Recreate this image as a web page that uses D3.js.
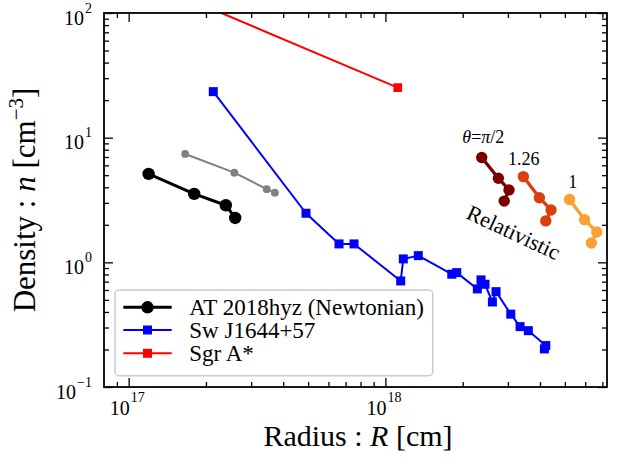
<!DOCTYPE html>
<html><head><meta charset="utf-8">
<script src="https://cdn.jsdelivr.net/npm/d3@7"></script>
<style>body{margin:0;background:#fff}svg{display:block}text{font-family:"Liberation Serif","Times New Roman",serif;fill:#000}</style>
</head><body><svg id="c" width="617" height="466"></svg>
<script>
// ---- data ----
const atR = [1.196e17, 1.80e17, 2.39e17, 2.60e17];
const atN = [5.12, 3.54, 2.87, 2.27];
const grayR = [1.66e17, 2.58e17, 3.45e17, 3.71e17];
const grayN = [7.40, 5.24, 3.86, 3.62];
const swR = [2.136e17, 4.906e17, 6.597e17, 7.548e17, 1.147e18, 1.174e18, 1.343e18, 1.813e18, 1.896e18,
             2.281e18, 2.357e18, 2.443e18, 2.61e18, 2.697e18, 3.078e18, 3.345e18, 3.603e18, 4.213e18, 4.16e18];
const swN = [23.4, 2.476, 1.405, 1.405, 0.709, 1.065, 1.132, 0.803, 0.827,
             0.612, 0.723, 0.667, 0.481, 0.582, 0.384, 0.305, 0.283, 0.215, 0.202];
const sgrR = [1.7e17, 1.117e18];
const sgrN = [130, 25.2];
const relDarkR = [2.372e18, 2.753e18, 3.03e18, 2.902e18];
const relDarkN = [6.94, 4.73, 3.81, 3.10];
const relMidR = [3.445e18, 3.977e18, 4.417e18, 4.213e18];
const relMidN = [4.87, 3.30, 2.63, 2.15];
const relLightR = [5.213e18, 5.965e18, 6.655e18, 6.341e18];
const relLightN = [3.19, 2.20, 1.75, 1.43];
const legendLabels = ["AT 2018hyz (Newtonian)", "Sw J1644+57", "Sgr A*"];
const xMajor = [1e17, 1e18];
const yMajor = [0.1, 1, 10, 100];
const xExp = ["17", "18"];
const yExp = ["\u22121", "0", "1", "2"];
const relLabels = ["1.26", "1"];

// ---- layout ----
const L = 104, R = 607, T = 13, B = 387;
const x = d3.scaleLog().domain([Math.pow(10, 16.904), Math.pow(10, 18.863)]).range([L, R]);
const y = d3.scaleLog().domain([0.1, 100]).range([B, T]);
const svg = d3.select("#c");

svg.append("defs").append("clipPath").attr("id", "clip")
  .append("rect").attr("x", L).attr("y", T).attr("width", R - L).attr("height", B - T);

const plot = svg.append("g").attr("clip-path", "url(#clip)");
const zip = (a, b) => a.map((v, i) => [v, b[i]]);
const line = d3.line().x(d => x(d[0])).y(d => y(d[1]));

function series(R_, N_, color, lw, marker, size) {
  const pts = zip(R_, N_);
  plot.append("path").datum(pts).attr("d", line).attr("fill", "none")
    .attr("stroke", color).attr("stroke-width", lw).attr("stroke-linejoin", "round");
  if (marker === "circle") {
    plot.selectAll(null).data(pts).enter().append("circle")
      .attr("cx", d => x(d[0])).attr("cy", d => y(d[1])).attr("r", size).attr("fill", color);
  } else {
    plot.selectAll(null).data(pts).enter().append("rect")
      .attr("x", d => x(d[0]) - size / 2).attr("y", d => y(d[1]) - size / 2)
      .attr("width", size).attr("height", size).attr("fill", color);
  }
}
series(sgrR, sgrN, "#ff0000", 2, "square", 8.7);
series(grayR, grayN, "#808080", 2, "circle", 3.9);
series(atR, atN, "#000000", 3, "circle", 6.2);
series(swR, swN, "#0000ff", 2, "square", 9);
series(relDarkR, relDarkN, "#7a0000", 3.3, "circle", 5.7);
series(relMidR, relMidN, "#d9400d", 3.3, "circle", 5.7);
series(relLightR, relLightN, "#fba035", 3.3, "circle", 5.7);

// annotations
const th = svg.append("text").attr("x", x(1.993e18)).attr("y", y(9.12)).attr("font-size", 18);
th.append("tspan").attr("font-style", "italic").text("θ");
th.append("tspan").text("=");
th.append("tspan").attr("font-style", "italic").text("π");
th.append("tspan").text("/2");
svg.append("text").attr("x", x(3.003e18)).attr("y", y(6.04)).attr("font-size", 18).text(relLabels[0]);
svg.append("text").attr("x", x(5.157e18)).attr("y", y(3.93)).attr("font-size", 18).text(relLabels[1]);
svg.append("text").attr("transform", `translate(${x(2.04e18)},${y(2.27)}) rotate(25)`)
  .attr("font-size", 22).text("Relativistic");

// ---- axes ----
const minorX = [];
for (let e = 16; e <= 18; e++) for (let m = 2; m <= 9; m++) minorX.push(m * Math.pow(10, e));
const minorXv = minorX.filter(v => x(v) >= L && x(v) <= R);
const minorY = [];
for (let e = -1; e <= 1; e++) for (let m = 2; m <= 9; m++) minorY.push(m * Math.pow(10, e));

function ax(gen, tx, ty, vals, size) {
  const g = svg.append("g").attr("transform", `translate(${tx},${ty})`)
    .call(gen.tickValues(vals).tickSize(size).tickFormat(""));
  g.select(".domain").remove();
  g.selectAll(".tick line").attr("stroke", "#000").attr("stroke-width", 1.3);
}
ax(d3.axisBottom(x), 0, B, xMajor, -9);
ax(d3.axisBottom(x), 0, B, minorXv, -5);
ax(d3.axisTop(x), 0, T, xMajor, -9);
ax(d3.axisTop(x), 0, T, minorXv, -5);
ax(d3.axisLeft(y), L, 0, yMajor, -9);
ax(d3.axisLeft(y), L, 0, minorY, -5);
ax(d3.axisRight(y), R, 0, yMajor, -9);
ax(d3.axisRight(y), R, 0, minorY, -5);

svg.append("rect").attr("x", L).attr("y", T).attr("width", R - L).attr("height", B - T)
  .attr("fill", "none").attr("stroke", "#000").attr("stroke-width", 1.8);

// tick labels (base and exponent as separate texts)
xMajor.forEach((v, i) => {
  svg.append("text").attr("x", x(v) + 1).attr("y", 414.5).attr("text-anchor", "end").attr("font-size", 20).text("10");
  svg.append("text").attr("x", x(v) + 2).attr("y", 402).attr("text-anchor", "start").attr("font-size", 14).text(xExp[i]);
});
yMajor.forEach((v, i) => {
  const ex = svg.append("text").attr("x", 92).attr("y", y(v) - 0.5).attr("text-anchor", "end").attr("font-size", 14).text(yExp[i]);
  const w = ex.node().getComputedTextLength();
  svg.append("text").attr("x", 92 - w - 1).attr("y", y(v) + 11.5).attr("text-anchor", "end").attr("font-size", 20).text("10");
});

// axis labels
const xl = svg.append("text").attr("x", 358).attr("y", 445.5).attr("text-anchor", "middle").attr("font-size", 30);
xl.append("tspan").text("Radius : ");
xl.append("tspan").attr("font-style", "italic").text("R");
xl.append("tspan").text(" [cm]");
const yl = svg.append("text").attr("transform", `translate(34.5,${(T + B) / 2}) rotate(-90)`)
  .attr("text-anchor", "middle").attr("font-size", 31);
yl.append("tspan").text("Density : ");
yl.append("tspan").attr("font-style", "italic").text("n");
yl.append("tspan").text(" [cm");
yl.append("tspan").attr("font-size", 21).attr("dy", -12).text("\u22123");
yl.append("tspan").attr("dy", 12).text("]");

// ---- legend ----
const lg = svg.append("g");
lg.append("rect").attr("x", 115).attr("y", 290).attr("width", 317.7).attr("height", 85.7)
  .attr("rx", 4).attr("fill", "#fff").attr("fill-opacity", 0.8).attr("stroke", "#cccccc").attr("stroke-width", 1.5);
const legColors = ["#000000", "#0000ff", "#ff0000"];
const legMarkers = ["circle", "square", "square"];
const legLW = [3, 2, 2];
const rowY = [307.3, 330, 353.3];
legendLabels.forEach((lab, i) => {
  lg.append("line").attr("x1", 123.3).attr("x2", 171.7).attr("y1", rowY[i]).attr("y2", rowY[i])
    .attr("stroke", legColors[i]).attr("stroke-width", legLW[i]);
  if (legMarkers[i] === "circle") lg.append("circle").attr("cx", 147.5).attr("cy", rowY[i]).attr("r", 6.2).attr("fill", legColors[i]);
  else lg.append("rect").attr("x", 147.5 - 4.5).attr("y", rowY[i] - 4.5).attr("width", 9).attr("height", 9).attr("fill", legColors[i]);
  lg.append("text").attr("x", 189.3).attr("y", rowY[i] + 7.8).attr("font-size", 23).text(lab);
});
</script></body></html>
